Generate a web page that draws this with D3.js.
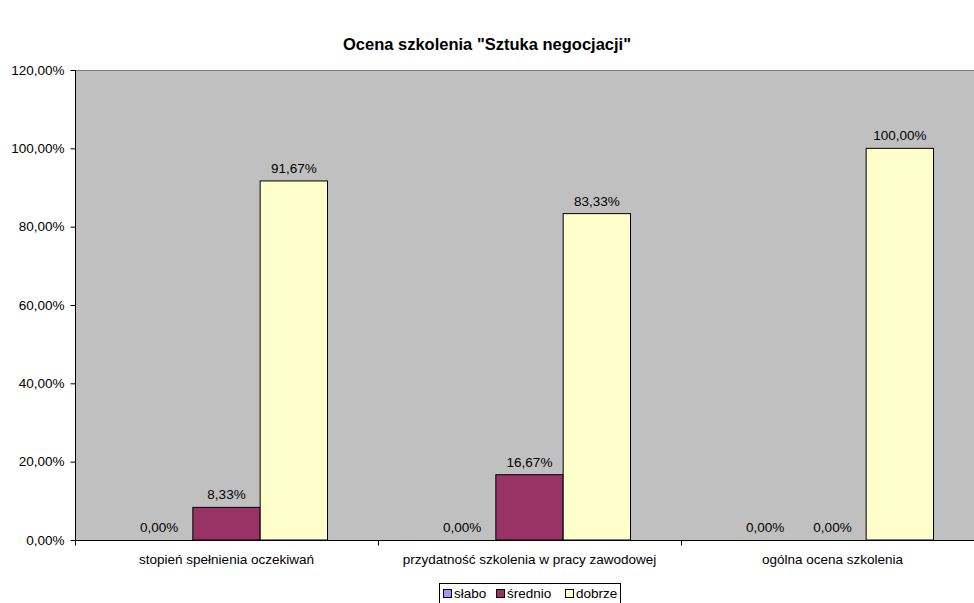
<!DOCTYPE html>
<html><head><meta charset="utf-8">
<script src="https://cdn.jsdelivr.net/npm/d3@7"></script>
<style>body{margin:0;background:#fff}svg{display:block;font-family:Arial,"Liberation Sans",sans-serif}</style>
</head><body><svg id="c" width="974" height="603"></svg>
<script>
const title = 'Ocena szkolenia "Sztuka negocjacji"';
const categories = ["stopień spełnienia oczekiwań", "przydatność szkolenia w pracy zawodowej", "ogólna ocena szkolenia"];
const seriesNames = ["słabo", "średnio", "dobrze"];
const slabo = [0, 0, 0];
const srednio = [8.33, 16.67, 0];
const dobrze = [91.67, 83.33, 100];
const yTicks = [0, 20, 40, 60, 80, 100, 120];
const colors = ["#9999FF", "#993366", "#FFFFCC"];

(function () {
const series = [slabo, srednio, dobrze];
const svg = d3.select("#c");
const pl = 75, pr = 984, pt = 70, pb = 540;
const ff = "Arial, 'Liberation Sans', sans-serif";
const fmt = v => v.toFixed(2).replace(".", ",") + "%";

const x0 = d3.scaleBand().domain(categories).range([pl, pr]).paddingInner(0).paddingOuter(0);
const bw = x0.bandwidth() / 4.5;
const x1 = d3.scaleBand().domain(seriesNames).range([0.75 * bw, 3.75 * bw]).padding(0);
const y = d3.scaleLinear().domain([0, 120]).range([pb, pt]);

svg.append("rect").attr("x", pl).attr("y", pt).attr("width", pr - pl).attr("height", pb - pt).attr("fill", "#C0C0C0");
svg.append("line").attr("x1", pl).attr("x2", pr).attr("y1", pt + 0.5).attr("y2", pt + 0.5).attr("stroke", "#808080");

svg.append("text").attr("x", 487).attr("y", 50).attr("text-anchor", "middle").attr("font-size", 16.5).attr("font-weight", "bold").text(title);

categories.forEach((c, ci) => {
  series.forEach((s, si) => {
    const v = s[ci];
    const bx = x0(c) + x1(seriesNames[si]);
    if (v > 0) {
      svg.append("rect").attr("x", bx).attr("y", y(v)).attr("width", x1.bandwidth()).attr("height", y(0) - y(v))
        .attr("fill", colors[si]).attr("stroke", "#000").attr("stroke-width", 1);
    }
    svg.append("text").attr("x", bx + x1.bandwidth() / 2).attr("y", y(v) - 8).attr("text-anchor", "middle")
      .attr("font-size", 13.5).attr("fill", "#000").text(fmt(v));
  });
});

const yAxis = d3.axisLeft(y).tickValues(yTicks).tickSize(5).tickPadding(6).tickFormat(fmt);
const gy = svg.append("g").attr("transform", `translate(${pl + 0.5},0)`).call(yAxis);
gy.selectAll("text").attr("font-size", 13.5).attr("font-family", ff).attr("fill", "#000");
gy.select(".domain").attr("d", `M0,${pt}V${pb}`).attr("stroke", "#000");

const xAxis = d3.axisBottom(x0).tickSize(0).tickPadding(14);
const gx = svg.append("g").attr("transform", `translate(0,${pb + 0.5})`).call(xAxis);
gx.selectAll("text").attr("font-size", 13.5).attr("font-family", ff).attr("fill", "#000");
gx.select(".domain").attr("d", `M${pl},0H${pr}`).attr("stroke", "#000");
categories.forEach((c) => {
  const tx = Math.round(x0(c)) + 0.5;
  gx.append("line").attr("x1", tx).attr("x2", tx).attr("y1", 0).attr("y2", 5).attr("stroke", "#000");
});

const lg = svg.append("g");
lg.append("rect").attr("x", 439.5).attr("y", 583.5).attr("width", 181).attr("height", 24).attr("fill", "#fff").attr("stroke", "#000");
const lx = [443, 496, 565];
seriesNames.forEach((n, i) => {
  lg.append("rect").attr("x", lx[i] + 0.5).attr("y", 589.5).attr("width", 8).attr("height", 8).attr("fill", colors[i]).attr("stroke", "#000");
  lg.append("text").attr("x", lx[i] + 11).attr("y", 598).attr("font-size", 13.5).text(n);
});
})();
</script></body></html>
